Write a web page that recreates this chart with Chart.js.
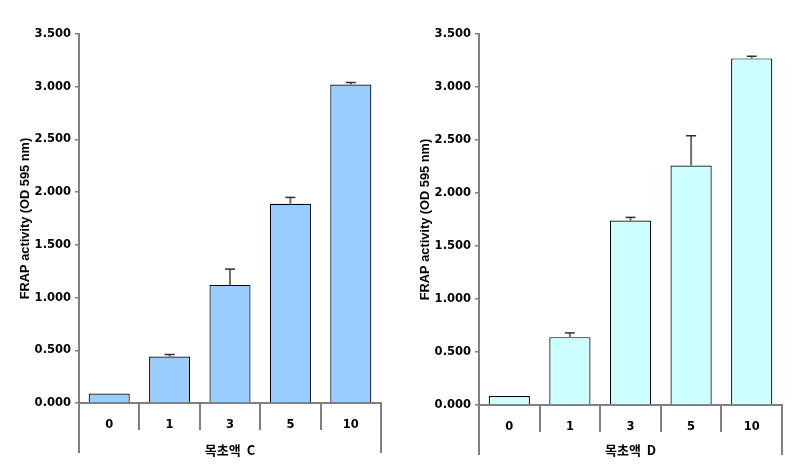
<!DOCTYPE html>
<html>
<head>
<meta charset="utf-8">
<script src="https://cdn.jsdelivr.net/npm/chart.js@4.4.0/dist/chart.umd.min.js"></script>
<style>
  html, body { margin: 0; padding: 0; background: #ffffff; }
  #wrap { position: relative; width: 803px; height: 475px; }
  .box { position: absolute; top: 0; height: 475px; }
  #boxC { left: 0; width: 400px; }
  #boxD { left: 400px; width: 403px; }
</style>
</head>
<body>
<div id="wrap">
  <div class="box" id="boxC"><canvas id="chartC"></canvas></div>
  <div class="box" id="boxD"><canvas id="chartD"></canvas></div>
</div>
<script>
const categories = ['0', '1', '3', '5', '10'];
const valuesC = [0.09, 0.44, 1.12, 1.89, 3.02];
const errorsC = [0.0, 0.02, 0.15, 0.06, 0.02];
const valuesD = [0.085, 0.64, 1.74, 2.26, 3.27];
const errorsD = [0.0, 0.04, 0.03, 0.28, 0.02];
const yTicks = [0, 0.5, 1.0, 1.5, 2.0, 2.5, 3.0, 3.5];
const yTitle = 'FRAP activity (OD 595 nm)';
const xTitleC = '목초액  C';
const xTitleD = '목초액  D';

const AXIS_GRAY = '#808080';
const tickFont = { family: 'DejaVu Sans', weight: 'bold', size: 11.5 };

const errorBarPlugin = {
  id: 'errorBars',
  afterDatasetsDraw(chart, args, opts) {
    const { ctx } = chart;
    const meta = chart.getDatasetMeta(0);
    const yScale = chart.scales.y;
    const vals = chart.data.datasets[0].data;
    const errs = opts.errors || [];
    ctx.save();
    meta.data.forEach((bar, i) => {
      const e = errs[i];
      if (!e) return;
      const x = bar.x;
      const yTop = yScale.getPixelForValue(vals[i] + e);
      const yBase = yScale.getPixelForValue(vals[i]);
      ctx.strokeStyle = '#707070';
      ctx.lineWidth = 2;
      ctx.beginPath();
      ctx.moveTo(x, yBase);
      ctx.lineTo(x, yTop);
      ctx.stroke();
      ctx.strokeStyle = '#303030';
      ctx.lineWidth = 1.5;
      ctx.beginPath();
      ctx.moveTo(x - 5, yTop);
      ctx.lineTo(x + 5, yTop);
      ctx.stroke();
    });
    ctx.restore();
  }
};

const xDividerPlugin = {
  id: 'xDividers',
  afterDraw(chart, args, opts) {
    const { ctx, chartArea } = chart;
    const xs = chart.scales.x;
    const n = chart.data.labels.length;
    const step = (xs.right - xs.left) / n;
    ctx.save();
    ctx.strokeStyle = AXIS_GRAY;
    ctx.lineWidth = 2;
    for (let i = 0; i <= n; i++) {
      const x = Math.round(xs.left + i * step);
      const edge = (i === 0 || i === n);
      ctx.beginPath();
      ctx.moveTo(x, chartArea.bottom);
      ctx.lineTo(x, chartArea.bottom + (edge ? opts.edgeLen : opts.innerLen));
      ctx.stroke();
    }
    ctx.restore();
  }
};

function makeChart(id, values, errors, color, xTitle, xHeight, rightPad) {
  return new Chart(document.getElementById(id), {
    type: 'bar',
    data: {
      labels: categories,
      datasets: [{
        data: values,
        backgroundColor: color,
        borderColor: '#000000',
        borderWidth: 1.2,
        barPercentage: 0.68,
        categoryPercentage: 1.0
      }]
    },
    options: {
      responsive: true,
      maintainAspectRatio: false,
      animation: false,
      layout: { padding: { top: 34, right: rightPad, bottom: 0, left: 0 } },
      plugins: {
        legend: { display: false },
        tooltip: { enabled: false },
        errorBars: { errors: errors },
        xDividers: { edgeLen: 50, innerLen: 27 }
      },
      scales: {
        x: {
          afterFit(scale) { scale.height = xHeight; },
          grid: { display: false, drawTicks: false },
          border: { display: true, color: AXIS_GRAY, width: 2 },
          ticks: { color: '#000000', font: tickFont, padding: 15 },
          title: {
            display: true,
            text: xTitle,
            color: '#000000',
            font: { family: 'Noto Sans CJK KR', weight: 'bold', size: 13 },
            padding: { top: 0, bottom: 17 }
          }
        },
        y: {
          min: 0,
          max: 3.5,
          afterFit(scale) { scale.width = 79; },
          afterBuildTicks(scale) { scale.ticks = yTicks.map(v => ({ value: v })); },
          grid: { display: true, drawOnChartArea: false, drawTicks: true, tickLength: 4, color: AXIS_GRAY, lineWidth: 1.5 },
          border: { display: true, color: AXIS_GRAY, width: 2 },
          ticks: {
            color: '#000000',
            font: tickFont,
            padding: 4,
            callback: (v) => Number(v).toFixed(3)
          },
          title: {
            display: true,
            text: yTitle,
            color: '#000000',
            font: { family: 'Liberation Sans', weight: 'bold', size: 12.8 },
            padding: { top: 18, bottom: 0 }
          }
        }
      }
    },
    plugins: [errorBarPlugin, xDividerPlugin]
  });
}

makeChart('chartC', valuesC, errorsC, '#99CCFF', xTitleC, 72, 19);
makeChart('chartD', valuesD, errorsD, '#CCFFFF', xTitleD, 70, 21);
</script>
</body>
</html>
